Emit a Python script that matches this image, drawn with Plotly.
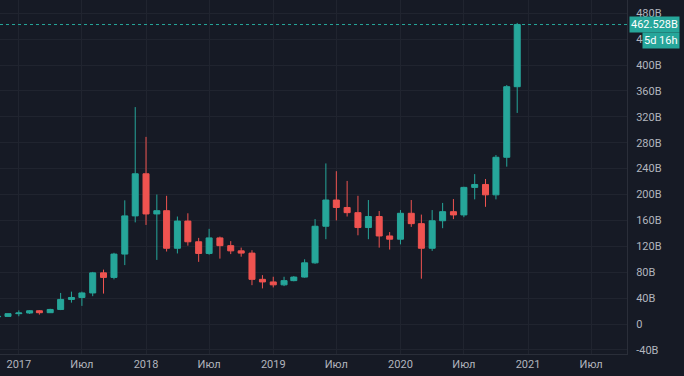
import pandas as pd
import plotly.graph_objects as go

# Monthly candles, values in billions (Nov 2016 .. Dec 2020)
open_ = [11.2, 11.8,
         16.0, 17.0, 20.5, 17.5, 22.5, 38.0, 41.0, 48.0, 79.0, 72.0, 108.0, 167.0,
         232.0, 170.0, 175.0, 117.0, 159.0, 127.0, 109.0, 133.0, 121.0, 113.0, 109.5, 69.0,
         65.0, 60.5, 67.0, 72.5, 94.5, 151.0, 191.5, 180.0, 172.0, 149.0, 166.0, 136.0,
         131.0, 171.0, 155.0, 117.0, 159.5, 173.5, 168.5, 211.0, 215.5, 199.5, 257.5, 366.5]
high = [12.4, 16.3,
        21.0, 21.5, 21.5, 23.5, 48.0, 50.0, 50.0, 80.5, 84.0, 110.0, 191.0, 335.0,
        289.0, 200.0, 198.0, 166.0, 171.0, 133.0, 147.0, 135.0, 128.0, 118.0, 114.0, 75.5,
        73.0, 73.0, 74.0, 100.0, 162.0, 248.0, 236.0, 221.0, 198.0, 191.5, 174.5, 142.0,
        176.0, 191.5, 169.0, 176.0, 187.0, 193.0, 212.0, 231.5, 224.0, 261.0, 369.0, 465.0]
low = [11.0, 11.6,
       12.0, 15.5, 14.5, 17.0, 21.5, 33.0, 28.0, 43.0, 47.0, 69.0, 91.0, 157.0,
       153.0, 99.0, 112.0, 109.0, 121.0, 96.0, 107.0, 101.0, 108.0, 104.0, 60.0, 55.0,
       56.5, 58.5, 66.0, 71.5, 93.0, 131.0, 160.0, 166.0, 137.0, 131.0, 118.0, 115.0,
       123.0, 150.0, 70.0, 113.0, 148.0, 162.0, 165.0, 192.5, 181.0, 192.5, 243.0, 326.0]
close = [11.8, 16.0,
         17.0, 20.5, 17.5, 22.5, 38.0, 41.0, 48.0, 79.0, 72.0, 108.0, 167.0, 232.0,
         170.0, 175.0, 117.0, 159.0, 127.0, 109.0, 133.0, 121.0, 113.0, 109.5, 69.0, 65.0,
         60.5, 67.0, 72.5, 94.5, 151.0, 191.5, 180.0, 172.0, 149.0, 166.0, 136.0, 131.0,
         171.0, 155.0, 117.0, 159.5, 173.5, 168.5, 211.0, 215.5, 199.5, 257.5, 366.5, 462.528]

months = pd.date_range("2016-11-01", periods=len(close), freq="MS")

x_tick_vals = ["2017-01-01", "2017-07-01", "2018-01-01", "2018-07-01", "2019-01-01",
               "2019-07-01", "2020-01-01", "2020-07-01", "2021-01-01", "2021-07-01"]
x_tick_text = ["2017", "Июл", "2018", "Июл", "2019", "Июл", "2020", "Июл", "2021", "Июл"]

y_tick_vals = [-40, 0, 40, 80, 120, 160, 200, 240, 280, 320, 360, 400, 440, 480]
y_tick_text = ["-40B", "0", "40B", "80B", "120B", "160B", "200B", "240B", "280B",
               "320B", "360B", "400B", "440B", "480B"]

last_price = close[-1]
last_label = "462.528B"
countdown = "5d 16h"

GREEN = "#26a69a"
RED = "#ef5350"
BG = "#161a25"
GRID = "#20242f"
TXT = "#b2b5be"

fig = go.Figure(go.Candlestick(
    x=months, open=open_, high=high, low=low, close=close,
    increasing=dict(line=dict(color=GREEN, width=1), fillcolor=GREEN),
    decreasing=dict(line=dict(color=RED, width=1), fillcolor=RED),
    whiskerwidth=0,
    hoverinfo="skip",
))

fig.add_shape(type="line", xref="paper", x0=0, x1=1, yref="y", y0=last_price, y1=last_price,
              line=dict(color=GREEN, width=1, dash="dot"))

fig.add_annotation(xref="paper", x=1.085, xanchor="right", yref="y", y=last_price,
                   text=last_label, showarrow=False, bgcolor=GREEN,
                   font=dict(color="#ffffff", size=11, family="Roboto"),
                   borderpad=1)
fig.add_annotation(xref="paper", x=1.085, xanchor="right", yref="y", y=438.5,
                   text=countdown, showarrow=False, bgcolor=GREEN,
                   font=dict(color="#ffffff", size=11, family="Roboto"),
                   borderpad=1)

fig.update_layout(
    width=684, height=376,
    margin=dict(l=0, r=57, t=0, b=22, autoexpand=False),
    paper_bgcolor=BG, plot_bgcolor=BG,
    showlegend=False,
    boxgap=0.12,
    font=dict(family="Roboto", size=11, color=TXT),
    xaxis=dict(
        type="date",
        range=["2016-11-08", "2021-10-12"],
        tickvals=x_tick_vals, ticktext=x_tick_text,
        showgrid=True, gridcolor=GRID, gridwidth=1,
        zeroline=False,
        rangeslider=dict(visible=False),
        showline=True, linecolor="#2a2e39", linewidth=1,
        ticks="", tickfont=dict(size=11, color=TXT),
        fixedrange=True, automargin=False,
    ),
    yaxis=dict(
        side="right",
        range=[-46.3, 500.4],
        tickvals=y_tick_vals, ticktext=y_tick_text,
        showgrid=True, gridcolor=GRID, gridwidth=1,
        zeroline=False,
        showline=True, linecolor="#2a2e39", linewidth=1,
        ticks="", ticklabelstandoff=6,
        tickfont=dict(size=11, color=TXT),
        fixedrange=True, automargin=False,
    ),
)

fig.write_html("out.html", config={"displayModeBar": False},
               post_script="document.body.style.margin='0';document.body.style.background='#161a25';")
